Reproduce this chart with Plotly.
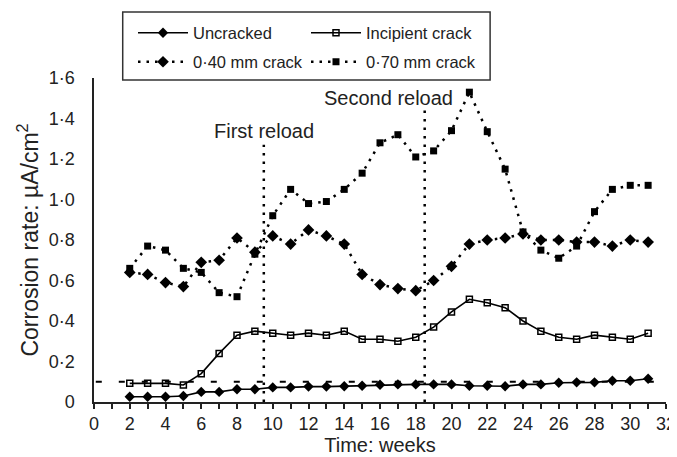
import plotly.graph_objects as go

weeks = list(range(2, 32))

uncracked = [0.026, 0.026, 0.026, 0.03, 0.05, 0.05, 0.063, 0.063, 0.072, 0.072,
             0.076, 0.076, 0.078, 0.08, 0.085, 0.087, 0.087, 0.087, 0.087, 0.08,
             0.08, 0.078, 0.087, 0.087, 0.095, 0.097, 0.097, 0.105, 0.105, 0.115]

incipient = [0.092, 0.092, 0.092, 0.084, 0.14, 0.24, 0.33, 0.35, 0.34, 0.33,
             0.34, 0.33, 0.35, 0.31, 0.31, 0.30, 0.32, 0.37, 0.445, 0.507,
             0.49, 0.466, 0.40, 0.35, 0.32, 0.31, 0.33, 0.32, 0.31, 0.34]

crack_040 = [0.64, 0.63, 0.59, 0.57, 0.69, 0.70, 0.81, 0.74, 0.82, 0.78,
             0.85, 0.82, 0.78, 0.63, 0.58, 0.56, 0.55, 0.60, 0.67, 0.78,
             0.80, 0.81, 0.83, 0.80, 0.80, 0.79, 0.79, 0.77, 0.80, 0.79]

crack_070 = [0.66, 0.77, 0.75, 0.66, 0.64, 0.54, 0.52, 0.73, 0.92, 1.05,
             0.98, 0.99, 1.05, 1.13, 1.28, 1.32, 1.21, 1.24, 1.34, 1.53,
             1.335, 1.15, 0.84, 0.75, 0.71, 0.77, 0.94, 1.05, 1.07, 1.07]

threshold = 0.1
first_reload = 9.5
first_reload_top = 1.27
second_reload = 18.5
second_reload_top = 1.44

x_ticks = list(range(0, 33, 2))
y_ticks = [0, 0.2, 0.4, 0.6, 0.8, 1.0, 1.2, 1.4, 1.6]
y_ticktext = ["0", "0·2", "0·4", "0·6", "0·8", "1·0", "1·2", "1·4", "1·6"]

FONT = "Liberation Sans, Arial, sans-serif"
TXT = "#222"
DOT = "2.5px,6px"
# page body has an 8px default margin; size the figure to fit the window
OFF = 8
W, H = 677 - OFF, 457 - OFF

fig = go.Figure()

fig.add_trace(go.Scatter(
    x=weeks, y=uncracked, name="Uncracked", mode="lines+markers",
    line=dict(color="black", width=1.6),
    marker=dict(symbol="diamond", size=8, color="black"),
    legend="legend"))
fig.add_trace(go.Scatter(
    x=weeks, y=incipient, name="Incipient crack", mode="lines+markers",
    line=dict(color="black", width=1.6),
    marker=dict(symbol="square-open", size=6, color="black", line=dict(width=1.5)),
    legend="legend"))
fig.add_trace(go.Scatter(
    x=weeks, y=crack_040, name="0·40 mm crack", mode="lines+markers",
    line=dict(color="black", width=2.5, dash=DOT),
    marker=dict(symbol="diamond", size=9, color="black"),
    legend="legend2"))
fig.add_trace(go.Scatter(
    x=weeks, y=crack_070, name="0·70 mm crack", mode="lines+markers",
    line=dict(color="black", width=2.5, dash=DOT),
    marker=dict(symbol="square", size=7, color="black"),
    legend="legend2"))

# threshold dashed line
fig.add_trace(go.Scatter(
    x=[0.1, 31.5], y=[threshold, threshold], mode="lines", showlegend=False,
    line=dict(color="black", width=2, dash="6px,17px"), hoverinfo="skip"))

# reload lines
for xr, top in [(first_reload, first_reload_top), (second_reload, second_reload_top)]:
    fig.add_trace(go.Scatter(
        x=[xr, xr], y=[0, top], mode="lines", showlegend=False,
        line=dict(color="black", width=2.5, dash=DOT), hoverinfo="skip"))

fig.add_annotation(x=first_reload, y=1.338, text="First reload", showarrow=False,
                   font=dict(size=20, color=TXT, family=FONT))
fig.add_annotation(x=16.45, y=1.50, text="Second reload", showarrow=False,
                   font=dict(size=20, color=TXT, family=FONT))

# legend border
fig.add_shape(type="rect", xref="paper", yref="paper",
              x0=0.0502, x1=0.6925, y0=0.994, y1=1.2037,
              line=dict(color="#333", width=1.5), fillcolor="rgba(0,0,0,0)")

leg_common = dict(orientation="h", xanchor="left", yanchor="middle",
                  xref="container", yref="container",
                  entrywidth=108, entrywidthmode="pixels", itemwidth=50,
                  bgcolor="rgba(0,0,0,0)", borderwidth=0,
                  font=dict(size=16.5, color=TXT, family=FONT),
                  tracegroupgap=0, itemclick=False)

fig.update_layout(
    width=W, height=H,
    margin=dict(l=94 - OFF, r=11, t=78 - OFF, b=55, autoexpand=False),
    paper_bgcolor="white", plot_bgcolor="white",
    font=dict(family=FONT, size=16, color=TXT),
    legend=dict(x=(133 - OFF) / W, y=1 - (33 - OFF) / H, **leg_common),
    legend2=dict(x=(133 - OFF) / W, y=1 - (62 - OFF) / H, **leg_common),
    xaxis=dict(range=[0, 32], tickvals=x_ticks, ticktext=[str(v) for v in x_ticks],
               automargin=False,
               showgrid=False, zeroline=False, showline=True, linecolor="#222",
               linewidth=1.5, ticks="outside", ticklen=5, tickwidth=1.5,
               tickcolor="#222",
               minor=dict(dtick=1, ticks="outside", ticklen=5, tickwidth=1.5,
                          tickcolor="#222", showgrid=False),
               tickfont=dict(size=18, color=TXT),
               title=dict(text="Time: weeks", font=dict(size=20, color=TXT),
                          standoff=2)),
    yaxis=dict(range=[0, 1.6], tickvals=y_ticks, ticktext=y_ticktext,
               automargin=False,
               showgrid=False, zeroline=False, showline=True, linecolor="#222",
               linewidth=1.5, ticks="", ticklabelstandoff=14,
               tickfont=dict(size=18, color=TXT),
               title=dict(text="Corrosion rate: µA/cm<sup>2</sup>",
                          font=dict(size=23, color=TXT), standoff=4)),
)

fig.write_html("out.html")
